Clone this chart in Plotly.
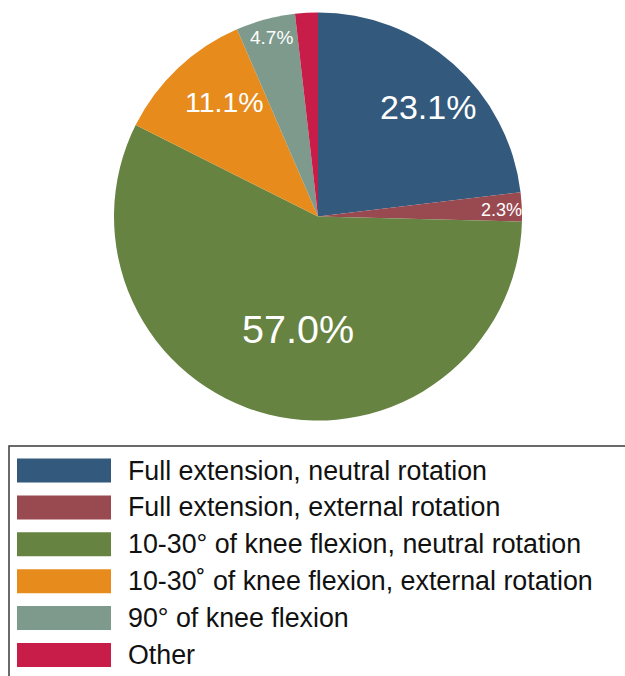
import math
import plotly.graph_objects as go

# ---- data ----
categories = [
    "Full extension, neutral rotation",
    "Full extension, external rotation",
    "10-30° of knee flexion, neutral rotation",
    "10-30˚ of knee flexion, external rotation",
    "90° of knee flexion",
    "Other",
]
values = [23.1, 2.3, 57.0, 11.1, 4.7, 1.8]
show_label = [True, True, True, True, True, False]

# ---- style ----
colors = ["#33597d", "#994a50", "#668342", "#e68b1c", "#7e9a8d", "#c81d48"]
label_sizes = [34, 18, 39.5, 28.5, 19, 18]
label_radius = [0.76, 0.90, 0.56, 0.725, 0.905, 0.9]
label_angle_offset = [3.4, 0.7, -3.8, 4.2, 0.3, 0.0]

W, H = 625, 676
cx, cy, R = 318.0, 216.5, 204.0  # pixels (from top-left)
FONT = "Liberation Sans, Arial, Helvetica, sans-serif"

fig = go.Figure()
fig.add_trace(go.Pie(
    labels=categories,
    values=values,
    sort=False,
    direction="clockwise",
    rotation=0,
    marker=dict(colors=colors, line=dict(width=0)),
    textinfo="none",
    hoverinfo="label+percent",
    showlegend=False,
    domain=dict(x=[(cx - R) / W, (cx + R) / W],
                y=[(H - cy - R) / H, (H - cy + R) / H]),
))

annotations = []
total = sum(values)
cum = 0.0
for i, v in enumerate(values):
    mid = (cum + v / 2) / total * 360.0
    cum += v
    if not show_label[i]:
        continue
    ang = math.radians(mid + label_angle_offset[i])
    px = cx + label_radius[i] * R * math.sin(ang)
    py = cy - label_radius[i] * R * math.cos(ang)
    annotations.append(dict(
        x=px / W, y=1 - py / H, xref="paper", yref="paper",
        text=f"{v / total * 100:.1f}%", showarrow=False,
        xanchor="center", yanchor="middle",
        font=dict(family=FONT, size=label_sizes[i], color="white"),
    ))

# legend drawn as shapes + text
shapes = [dict(type="rect", xref="paper", yref="paper",
               x0=9 / W, x1=640 / W, y0=1 - 446 / H, y1=1 - 700 / H,
               line=dict(color="#3a3a3a", width=1.5), fillcolor="rgba(0,0,0,0)")]
row0, step = 470.5, 36.9
for i, (cat, col) in enumerate(zip(categories, colors)):
    yc = row0 + i * step
    shapes.append(dict(type="rect", xref="paper", yref="paper",
                       x0=17 / W, x1=111 / W, y0=1 - (yc - 12) / H, y1=1 - (yc + 12) / H,
                       line=dict(width=0), fillcolor=col))
    annotations.append(dict(
        x=126 / W, y=1 - yc / H, xref="paper", yref="paper",
        text=cat, showarrow=False, xanchor="left", yanchor="middle",
        font=dict(family=FONT, size=26.8, color="#111111"),
    ))

fig.update_layout(
    width=W, height=H,
    margin=dict(l=0, r=0, t=0, b=0),
    paper_bgcolor="white", plot_bgcolor="white",
    shapes=shapes, annotations=annotations,
    showlegend=False,
)

fig.write_html(
    "out.html",
    config={"displayModeBar": False},
    post_script="document.body.style.margin='0';document.body.style.overflow='hidden';",
)
